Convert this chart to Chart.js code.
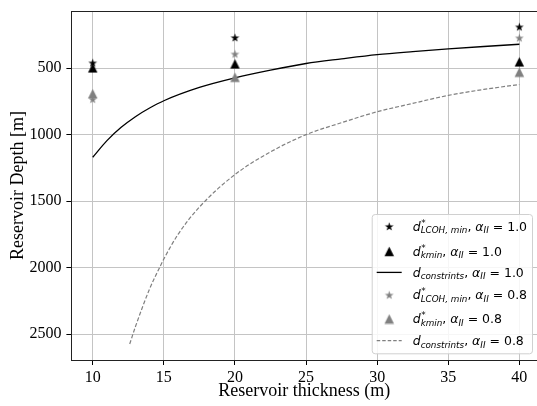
<!DOCTYPE html>
<html>
<head>
<meta charset="utf-8">
<script src="https://cdn.jsdelivr.net/npm/chart.js@4.4.0/dist/chart.umd.min.js"></script>
<style>
html, body { margin: 0; padding: 0; background: #fff; }
</style>
</head>
<body>
<canvas id="myChart" width="537" height="406"></canvas>
<script>
// values
const thickness = [10, 20, 40];
const lcohMin10 = [460, 270, 189];
const kMin10 = [498, 468, 453];
const lcohMin08 = [733, 393, 272];
const kMin08 = [692, 568, 530];

const constrX10 = [10, 11, 12, 13, 14, 15, 17.5, 20, 22.5, 25, 27.5, 30, 32.5, 35, 37.5, 40];
const constr10 = [1170, 1045, 945, 865, 800, 745, 645, 573, 515, 465, 430, 398, 375, 355, 337, 320];
const constrX08 = [12.6, 13, 14, 14.7, 15, 16, 17.5, 20, 22.5, 25, 27.5, 30, 32.5, 35, 37.5, 40];
const constr08 = [2575, 2445, 2160, 2000, 1935, 1750, 1545, 1300, 1130, 1000, 910, 828, 765, 705, 660, 623];

const xTicks = [10, 15, 20, 25, 30, 35, 40];
const yTicks = [500, 1000, 1500, 2000, 2500];

const BLACK = '#000000';
const GRAY = '#808080';

// filled marker images (matplotlib style '*' and '^')
function starMarker(color){
    const c = document.createElement('canvas');
    c.width = 11; c.height = 11;
    const g = c.getContext('2d');
    const R = 4.6, r = R * 0.382, cx = 5.5, cy = 5.9;
    g.beginPath();
    for(let i = 0; i < 10; i++){
        const a = -Math.PI / 2 + i * Math.PI / 5;
        const rr = i % 2 === 0 ? R : r;
        const px = cx + Math.cos(a) * rr, py = cy + Math.sin(a) * rr;
        if(i === 0) g.moveTo(px, py); else g.lineTo(px, py);
    }
    g.closePath();
    g.fillStyle = color;
    g.fill();
    return c;
}
function triMarker(color){
    const c = document.createElement('canvas');
    c.width = 11; c.height = 11;
    const g = c.getContext('2d');
    const h = 4.75;
    g.beginPath();
    g.moveTo(5.5, 5.5 - h);
    g.lineTo(5.5 - h, 5.5 + h);
    g.lineTo(5.5 + h, 5.5 + h);
    g.closePath();
    g.fillStyle = color;
    g.fill();
    return c;
}
const starBlack = starMarker(BLACK);
const starGray = starMarker(GRAY);
const triBlack = triMarker(BLACK);
const triGray = triMarker(GRAY);

function pts(xs, ys){
    return xs.map((x, i) => ({x: x, y: ys[i]}));
}

// legend rows drawn as mathtext-like pieces
const legendRows = [
    {marker: starBlack, parts: 'LCOH, min', val: '1.0', star: true},
    {marker: triBlack, parts: 'kmin', val: '1.0', star: true},
    {line: BLACK, parts: 'constrints', val: '1.0', star: false},
    {marker: starGray, parts: 'LCOH, min', val: '0.8', star: true},
    {marker: triGray, parts: 'kmin', val: '0.8', star: true},
    {line: GRAY, dash: [3.5, 2], parts: 'constrints', val: '0.8', star: false}
];
const rowBase = [16.7, 41.7, 62.7, 85.3, 109.3, 131];

const FS = 12.5, SS = 8.8;
function font(sz, it){
    return (it ? 'italic ' : '') + sz + 'px "DejaVu Sans"';
}

const legendPlugin = {
    id: 'mplLegend',
    afterDraw(chart){
        const ctx = chart.ctx;
        const ca = chart.chartArea;
        ctx.save();
        // top spine
        ctx.strokeStyle = '#222';
        ctx.lineWidth = 1;
        ctx.beginPath();
        ctx.moveTo(ca.left, ca.top + 0.5);
        ctx.lineTo(ca.right, ca.top + 0.5);
        ctx.stroke();

        const bx = ca.right - 165.3, by = ca.bottom - 146, bw = 160.3, bh = 139.3;
        ctx.beginPath();
        ctx.roundRect(bx + 0.5, by + 0.5, bw, bh, 3);
        ctx.fillStyle = 'rgba(255,255,255,0.85)';
        ctx.fill();
        ctx.strokeStyle = '#d0d0d0';
        ctx.stroke();

        legendRows.forEach((row, i) => {
            const base = by + rowBase[i];
            const my = base - 4.3;
            if(row.marker){
                ctx.drawImage(row.marker, bx + 17.5 - 5.5, my - 5.5);
            }else{
                ctx.strokeStyle = row.line;
                ctx.lineWidth = 1.3;
                ctx.setLineDash(row.dash || []);
                ctx.beginPath();
                ctx.moveTo(bx + 5, my);
                ctx.lineTo(bx + 30, my);
                ctx.stroke();
                ctx.setLineDash([]);
            }
            ctx.fillStyle = '#000';
            ctx.textBaseline = 'alphabetic';
            ctx.textAlign = 'left';
            let x = bx + 41;
            ctx.font = font(FS, true);
            ctx.fillText('d', x, base);
            x += ctx.measureText('d').width;
            if(row.star){
                ctx.font = font(SS, false);
                ctx.fillText('*', x + 0.5, base - 5);
            }
            ctx.font = font(SS, true);
            ctx.fillText(row.parts, x, base + 2.6);
            x += ctx.measureText(row.parts).width;
            ctx.font = font(FS, false);
            ctx.fillText(', ', x, base);
            x += ctx.measureText(', ').width;
            ctx.font = font(FS, true);
            ctx.fillText('\u03b1', x, base);
            x += ctx.measureText('\u03b1').width;
            ctx.font = font(SS, true);
            ctx.fillText('II', x, base + 2.6);
            x += ctx.measureText('II').width;
            ctx.font = font(FS, false);
            ctx.fillText(' = ' + row.val, x, base);
        });
        ctx.restore();
    }
};

function noPad(s){
    s.paddingTop = 0;
    s.paddingBottom = 0;
    s.paddingLeft = 0;
    s.paddingRight = 0;
}

const ctx = document.getElementById('myChart').getContext('2d');
const myChart = new Chart(ctx, {
    type: 'scatter',
    data: {
        datasets: [
            {label: 'lcoh 1.0', data: pts(thickness, lcohMin10), pointStyle: starBlack, pointRadius: 5, showLine: false, order: 6},
            {label: 'kmin 1.0', data: pts(thickness, kMin10), pointStyle: triBlack, pointRadius: 5, showLine: false, order: 5},
            {label: 'constr 1.0', data: pts(constrX10, constr10), showLine: true, borderColor: BLACK, borderWidth: 1.3, pointRadius: 0, cubicInterpolationMode: 'monotone', order: 4},
            {label: 'lcoh 0.8', data: pts(thickness, lcohMin08), pointStyle: starGray, pointRadius: 5, showLine: false, order: 3},
            {label: 'kmin 0.8', data: pts(thickness, kMin08), pointStyle: triGray, pointRadius: 5, showLine: false, order: 2},
            {label: 'constr 0.8', data: pts(constrX08, constr08), showLine: true, borderColor: GRAY, borderWidth: 1.2, borderDash: [4, 2], pointRadius: 0, cubicInterpolationMode: 'monotone', order: 1}
        ]
    },
    options: {
        responsive: false,
        animation: false,
        devicePixelRatio: 1,
        layout: {autoPadding: false, padding: {top: 11, right: 0, left: 0, bottom: 0}},
        plugins: {
            legend: {display: false},
            tooltip: {enabled: false}
        },
        scales: {
            x: {
                type: 'linear',
                min: 8.5,
                max: 41.24,
                afterBuildTicks: s => { s.ticks = xTicks.map(v => ({value: v})); },
                afterFit: s => { s.height = 46; noPad(s); },
                grid: {color: '#c4c4c4', lineWidth: 1, tickColor: '#000', tickLength: 5},
                border: {color: '#222', width: 1},
                ticks: {color: '#000', padding: 3, font: {family: '"Liberation Serif"', size: 16}, maxRotation: 0, callback: v => String(v)},
                title: {display: true, text: 'Reservoir thickness (m)', color: '#000', font: {family: '"Liberation Serif"', size: 18}, padding: {top: 0, bottom: 4}}
            },
            y: {
                type: 'linear',
                reverse: true,
                min: 70,
                max: 2695,
                afterBuildTicks: s => { s.ticks = yTicks.map(v => ({value: v})); },
                afterFit: s => { s.width = 71.4; noPad(s); },
                grid: {color: '#c4c4c4', lineWidth: 1, tickColor: '#000', tickLength: 5},
                border: {color: '#222', width: 1},
                ticks: {color: '#000', padding: 5, font: {family: '"Liberation Serif"', size: 16}, callback: v => String(v)},
                title: {display: true, text: 'Reservoir Depth [m]', color: '#000', font: {family: '"Liberation Serif"', size: 18}, padding: {top: 7, bottom: 0}}
            }
        }
    },
    plugins: [legendPlugin]
});
</script>
</body>
</html>
